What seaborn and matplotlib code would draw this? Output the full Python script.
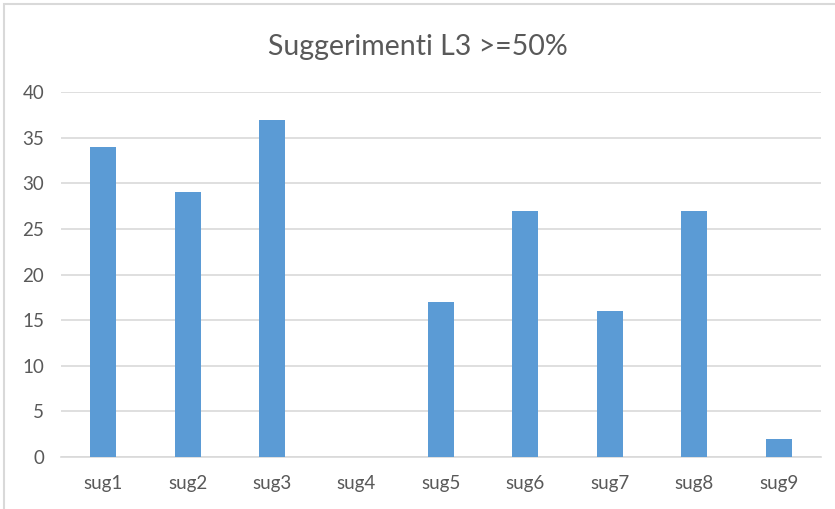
import matplotlib

matplotlib.use("Agg")
import matplotlib.pyplot as plt
import pandas as pd
import seaborn as sns
from matplotlib.patches import Rectangle

CATEGORIES = ["sug1", "sug2", "sug3", "sug4", "sug5", "sug6", "sug7", "sug8", "sug9"]
COUNTS = [34, 29, 37, 0, 17, 27, 16, 27, 2]
Y_TICKS = [0, 5, 10, 15, 20, 25, 30, 35, 40]
TITLE = "Suggerimenti L3 >=50%"

BAR_COLOR = "#5B9BD5"
GRID_COLOR = "#D9D9D9"
TEXT_COLOR = "#595959"


def main() -> None:
    sns.set_theme(style="white")
    plt.rcParams["font.family"] = ["Lato", "DejaVu Sans"]

    frame = pd.DataFrame({"category": CATEGORIES, "count": COUNTS})

    fig = plt.figure(figsize=(8.35, 5.09), dpi=100)
    ax = fig.add_axes([0.073, 0.102, 0.910, 0.717])

    sns.barplot(
        data=frame,
        x="category",
        y="count",
        color=BAR_COLOR,
        saturation=1,
        width=0.31,
        linewidth=0,
        ax=ax,
        zorder=3,
    )

    ax.set_ylim(0, 40)
    ax.set_xlim(-0.5, len(CATEGORIES) - 0.5)
    ax.set_yticks(Y_TICKS)
    ax.yaxis.grid(True, color=GRID_COLOR, linewidth=1.2, zorder=0)
    ax.set_axisbelow(True)
    for side in ["top", "right", "left"]:
        ax.spines[side].set_visible(False)
    ax.spines["bottom"].set_color(GRID_COLOR)
    ax.spines["bottom"].set_linewidth(1.2)

    ax.set_xlabel("")
    ax.set_ylabel("")
    ax.tick_params(axis="both", length=0, labelsize=13.5, labelcolor=TEXT_COLOR)
    ax.tick_params(axis="y", pad=12)
    ax.tick_params(axis="x", pad=13)

    fig.text(0.5, 0.908, TITLE, ha="center", va="center", fontsize=20.5, color=TEXT_COLOR)

    # chart frame, cut off on the right and bottom like the screenshot
    fig.patches.append(
        Rectangle(
            (4 / 835, -0.05),
            1.1,
            1.05 - 4 / 509,
            transform=fig.transFigure,
            fill=False,
            edgecolor=GRID_COLOR,
            linewidth=1.5,
        )
    )

    fig.savefig("out.png", dpi=100)
    plt.close(fig)


if __name__ == "__main__":
    main()
